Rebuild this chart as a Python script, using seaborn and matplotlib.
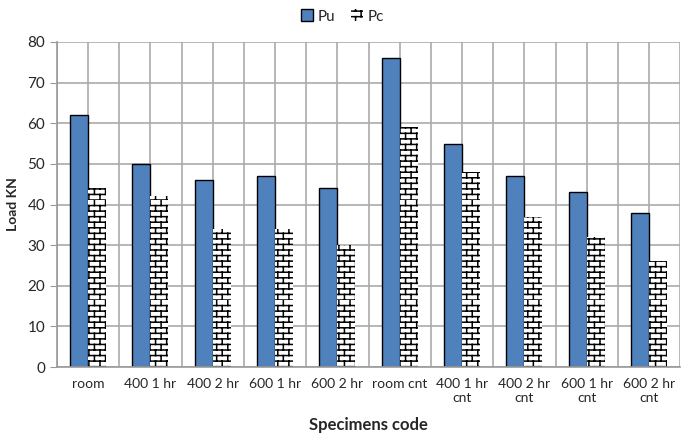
import warnings
import numpy as np
import pandas as pd
import matplotlib
matplotlib.use('Agg')
import matplotlib.pyplot as plt
import matplotlib.patches as patches
from matplotlib import hatch as mhatch
from matplotlib.path import Path
import seaborn as sns

warnings.filterwarnings('ignore')

# data
specimens = ['room', '400 1 hr', '400 2 hr', '600 1 hr', '600 2 hr',
             'room cnt', '400 1 hr\ncnt', '400 2 hr\ncnt', '600 1 hr\ncnt', '600 2 hr\ncnt']
pu = [62, 50, 46, 47, 44, 76, 55, 47, 43, 38]
pc = [44, 42, 34, 34, 30, 59, 48, 37, 32, 26]
y_ticks = [0, 10, 20, 30, 40, 50, 60, 70, 80]


# brick hatch, 'b' in the hatch string
class BrickHatch(mhatch.HatchPatternBase):
    def __init__(self, hatch, density):
        self.on = 'b' in hatch
        self.rows = 18
        self.cols = 9
        n = 0
        if self.on:
            for i in range(self.rows):
                n += 2 + 2 * (self.cols + 1)
        self.num_vertices = n

    def set_vertices_and_codes(self, vertices, codes):
        k = 0
        for i in range(self.rows):
            y0 = i / self.rows
            y1 = (i + 1) / self.rows
            vertices[k] = (0, y0); codes[k] = Path.MOVETO
            vertices[k + 1] = (1, y0); codes[k + 1] = Path.LINETO
            k += 2
            off = 0.5 / self.cols if i % 2 else 0.0
            for j in range(self.cols + 1):
                x = j / self.cols + off
                vertices[k] = (x, y0); codes[k] = Path.MOVETO
                vertices[k + 1] = (x, y1); codes[k + 1] = Path.LINETO
                k += 2


mhatch._hatch_types.append(BrickHatch)

sns.set_style('white')
plt.rcParams['font.family'] = ['Lato', 'DejaVu Sans']
plt.rcParams['hatch.linewidth'] = 1.1

df = pd.DataFrame({
    'code': specimens * 2,
    'load': pu + pc,
    'kind': ['Pu'] * len(pu) + ['Pc'] * len(pc),
})

fig, ax = plt.subplots(figsize=(6.85, 4.37), dpi=100)
fig.subplots_adjust(left=0.083, right=0.993, top=0.904, bottom=0.160)

sns.barplot(data=df, x='code', y='load', hue='kind', order=specimens,
            hue_order=['Pu', 'Pc'], palette={'Pu': '#4F81BD', 'Pc': 'white'},
            saturation=1, width=0.58, edgecolor='black', linewidth=1.0,
            legend=False, ax=ax)

n = len(specimens)
for bar in ax.patches[n:2 * n]:
    bar.set_hatch('b')
    bar.set_linewidth(0.0)
    bar.set_edgecolor('black')

ax.set_xlim(-0.5, n - 0.5)
ax.set_ylim(0, 80)
ax.set_yticks(y_ticks)
ax.set_xticks(np.arange(n))
ax.set_xticks(np.arange(n + 1) - 0.5, minor=True)
ax.set_xticklabels(specimens, fontsize=10)
ax.tick_params(axis='x', which='major', length=0, pad=8)
ax.tick_params(axis='x', which='minor', length=5, color='#999999', direction='out')
ax.tick_params(axis='y', length=5, color='#999999', direction='out', labelsize=11, left=True)

ax.grid(True, which='both', axis='x', color='#aaaaaa', linewidth=1.2)
ax.grid(True, which='major', axis='y', color='#aaaaaa', linewidth=1.2)
ax.set_axisbelow(True)
for side in ['top', 'right']:
    ax.spines[side].set_visible(False)
for side in ['left', 'bottom']:
    ax.spines[side].set_color('#999999')
    ax.spines[side].set_linewidth(1.2)

ax.set_xlabel('Specimens code', fontsize=12, fontweight='bold', labelpad=9)
ax.set_ylabel('Load KN', fontsize=10, fontweight='bold', labelpad=6)

handles = [patches.Patch(facecolor='#4F81BD', edgecolor='black', label='Pu'),
           patches.Patch(facecolor='white', edgecolor='black', hatch='b', linewidth=0, label='Pc')]
fig.legend(handles=handles, loc='upper center', bbox_to_anchor=(0.5, 1.01), ncol=2,
           frameon=False, fontsize=11, handlelength=0.8, handleheight=0.8,
           handletextpad=0.3, columnspacing=1.0)

fig.savefig('out.png', dpi=100)
